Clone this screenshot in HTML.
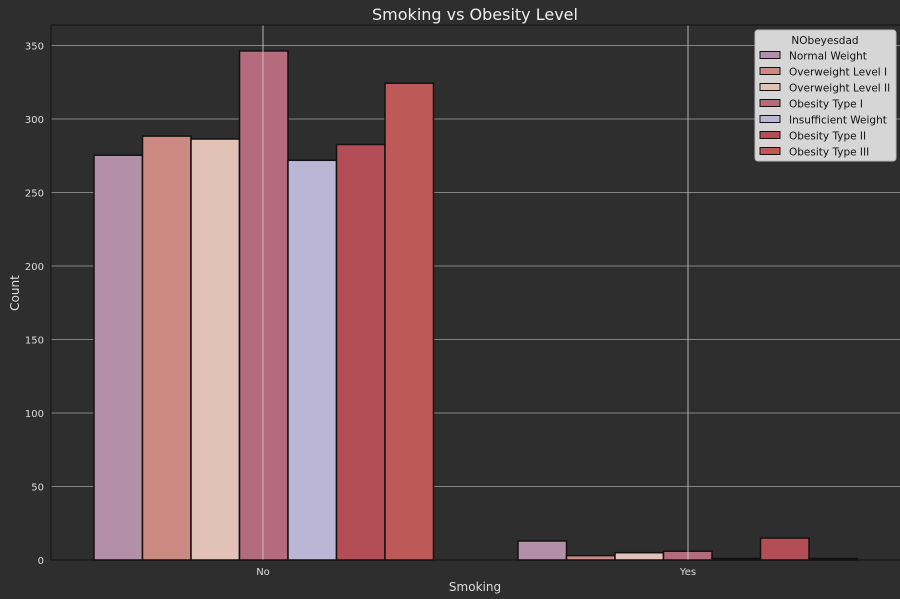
<!DOCTYPE html>
<html><head><meta charset="utf-8"><style>
html,body{margin:0;padding:0;background:#2e2e2e;}
svg{display:block;font-family:"DejaVu Sans","Liberation Sans",sans-serif;}
</style></head><body>
<svg width="900" height="599" viewBox="0 0 900 599" xmlns="http://www.w3.org/2000/svg">
<rect width="900" height="599" fill="#2e2e2e"/>
<text x="475" y="20" font-size="16" fill="#eeeeee" text-anchor="middle">Smoking vs Obesity Level</text>
<g stroke="#9a9a9a" stroke-width="1" opacity="0.8">
<line x1="51" x2="900" y1="486.5" y2="486.5"/>
<line x1="51" x2="900" y1="413" y2="413"/>
<line x1="51" x2="900" y1="339.5" y2="339.5"/>
<line x1="51" x2="900" y1="266" y2="266"/>
<line x1="51" x2="900" y1="192.5" y2="192.5"/>
<line x1="51" x2="900" y1="119" y2="119"/>
<line x1="51" x2="900" y1="45.5" y2="45.5"/>
</g>
<g stroke="#111" stroke-width="1.5">
<rect x="94" y="155.2" width="48.5" height="404.8" fill="#b48fa8"/>
<rect x="142.5" y="136.1" width="48.5" height="423.9" fill="#cd8a82"/>
<rect x="191" y="139" width="48.5" height="421" fill="#e2c1b6"/>
<rect x="239.5" y="50.9" width="48.5" height="509.1" fill="#b46b7b"/>
<rect x="288" y="160.3" width="48.5" height="399.7" fill="#bcb6d6"/>
<rect x="336.5" y="144.5" width="48.5" height="415.5" fill="#b34e56"/>
<rect x="385" y="83.2" width="48.5" height="476.8" fill="#bd5956"/>
<rect x="518" y="541" width="48.5" height="19" fill="#b48fa8"/>
<rect x="566.5" y="555.6" width="48.5" height="4.4" fill="#cd8a82"/>
<rect x="615" y="552.7" width="48.5" height="7.3" fill="#e2c1b6"/>
<rect x="663.5" y="551.2" width="48.5" height="8.8" fill="#b46b7b"/>
<rect x="712" y="558.5" width="48.5" height="1.5" fill="#bcb6d6"/>
<rect x="760.5" y="538" width="48.5" height="22" fill="#b34e56"/>
<rect x="809" y="558.5" width="48.5" height="1.5" fill="#bd5956"/>
</g>
<g stroke="#cccccc" stroke-width="1" opacity="0.85">
<line x1="263" x2="263" y1="25" y2="560"/>
<line x1="688" x2="688" y1="25" y2="560"/>
</g>
<line x1="51" x2="51" y1="25" y2="560" stroke="#111" stroke-width="1"/>
<line x1="51" x2="900" y1="25" y2="25" stroke="#111" stroke-width="1"/>
<line x1="51" x2="900" y1="560" y2="560" stroke="#111" stroke-width="1"/>
<g font-size="10" fill="#dddddd" text-anchor="end">
<text x="44" y="564">0</text><text x="44" y="490.5">50</text><text x="44" y="417">100</text>
<text x="44" y="343.5">150</text><text x="44" y="270">200</text><text x="44" y="196.5">250</text>
<text x="44" y="123">300</text><text x="44" y="49.5">350</text>
</g>
<g font-size="10" fill="#dddddd" text-anchor="middle">
<text x="263" y="575">No</text><text x="688" y="575">Yes</text>
</g>
<text x="475" y="591" font-size="12" fill="#dddddd" text-anchor="middle">Smoking</text>
<text transform="translate(19,293) rotate(-90)" font-size="12" fill="#dddddd" text-anchor="middle">Count</text>
<rect x="755" y="30" width="141" height="131" rx="3" fill="#d6d6d6" stroke="#bbb"/>
<text x="825" y="44" font-size="10.5" fill="#111" text-anchor="middle">NObeyesdad</text>
<g stroke="#111" stroke-width="1">
<rect x="760" y="51.5" width="20" height="7" fill="#b48fa8"/>
<rect x="760" y="67.5" width="20" height="7" fill="#cd8a82"/>
<rect x="760" y="83.5" width="20" height="7" fill="#e2c1b6"/>
<rect x="760" y="99.5" width="20" height="7" fill="#b46b7b"/>
<rect x="760" y="115.5" width="20" height="7" fill="#bcb6d6"/>
<rect x="760" y="131.5" width="20" height="7" fill="#b34e56"/>
<rect x="760" y="147.5" width="20" height="7" fill="#bd5956"/>
</g>
<g font-size="10.5" fill="#111">
<text x="789" y="59.5">Normal Weight</text>
<text x="789" y="75.5">Overweight Level I</text>
<text x="789" y="91.5">Overweight Level II</text>
<text x="789" y="107.5">Obesity Type I</text>
<text x="789" y="123.5">Insufficient Weight</text>
<text x="789" y="139.5">Obesity Type II</text>
<text x="789" y="155.5">Obesity Type III</text>
</g>
</svg>
</body></html>
